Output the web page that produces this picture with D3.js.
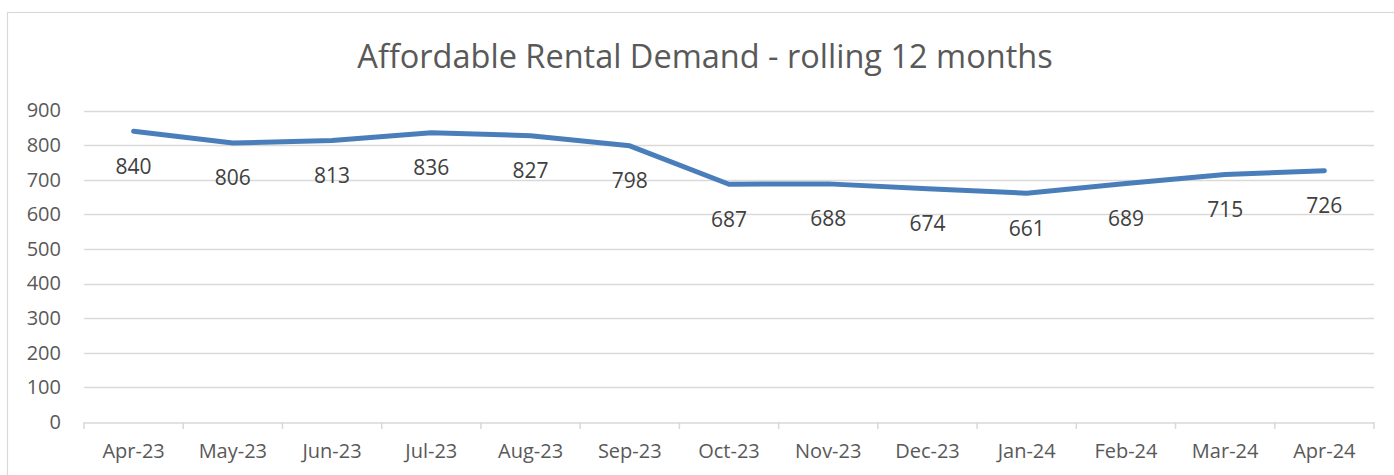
<!DOCTYPE html>
<html><head><meta charset="utf-8">
<script src="https://cdn.jsdelivr.net/npm/d3@7"></script>
<style>body{margin:0;background:#fff}svg{display:block}</style>
</head><body>
<script>
const categories = ["Apr-23","May-23","Jun-23","Jul-23","Aug-23","Sep-23","Oct-23","Nov-23","Dec-23","Jan-24","Feb-24","Mar-24","Apr-24"];
const values = [840,806,813,836,827,798,687,688,674,661,689,715,726];
const yTicks = [0,100,200,300,400,500,600,700,800,900];
const title = "Affordable Rental Demand - rolling 12 months";

(function(){
const W = 1394, H = 475;
const font = "'Open Sans', sans-serif";
const svg = d3.select("body").append("svg").attr("width", W).attr("height", H);

svg.append("rect").attr("x", 7.5).attr("y", 12.5).attr("width", 1400).attr("height", 470)
  .attr("fill", "#fff").attr("stroke", "#d9d9d9").attr("stroke-width", 1.2);

const pLeft = 84, pRight = 1374, pTop = 110.5, pBottom = 422;
const x = d3.scaleBand().domain(categories).range([pLeft, pRight]);
const y = d3.scaleLinear().domain([0, 900]).range([pBottom, pTop]);

svg.append("text").attr("x", 705).attr("y", 68).attr("text-anchor", "middle")
  .attr("font-family", font).attr("font-size", 32.5).attr("fill", "#595959").text(title);

svg.append("g").selectAll("line").data(yTicks.filter(d => d > 0)).join("line")
  .attr("x1", pLeft).attr("x2", pRight).attr("y1", d => Math.round(y(d)) + 0.5).attr("y2", d => Math.round(y(d)) + 0.5)
  .attr("stroke", "#d9d9d9").attr("stroke-width", 1.5);

const yAxis = svg.append("g").attr("transform", `translate(${pLeft},0)`)
  .call(d3.axisLeft(y).tickValues(yTicks).tickSize(0).tickPadding(23));
yAxis.select(".domain").remove();
yAxis.selectAll("text").attr("font-family", font).attr("font-size", 20).attr("fill", "#595959");

const xAxis = svg.append("g").attr("transform", `translate(0,${Math.round(pBottom) + 0.5})`)
  .call(d3.axisBottom(x).tickSize(0).tickPadding(21));
xAxis.select(".domain").attr("stroke", "#d9d9d9").attr("stroke-width", 1.5);
xAxis.selectAll("text").attr("font-family", font).attr("font-size", 20).attr("fill", "#595959");
const bounds = categories.map(c => x(c)).concat([pRight]);
svg.append("g").selectAll("line").data(bounds).join("line")
  .attr("x1", d => d).attr("x2", d => d).attr("y1", pBottom).attr("y2", pBottom + 7)
  .attr("stroke", "#d9d9d9").attr("stroke-width", 1.5);

const cx = c => x(c) + x.bandwidth() / 2;
const line = d3.line().x((d, i) => cx(categories[i])).y(d => y(d));
svg.append("path").datum(values).attr("d", line).attr("fill", "none")
  .attr("stroke", "#4a7ebb").attr("stroke-width", 5).attr("stroke-linecap", "round").attr("stroke-linejoin", "round");

svg.append("g").selectAll("text").data(values).join("text")
  .attr("x", (d, i) => cx(categories[i])).attr("y", d => y(d) + 35)
  .attr("dy", "0.35em").attr("text-anchor", "middle")
  .attr("font-family", font).attr("font-size", 21).attr("fill", "#404040").text(d => d);
})();
</script>
</body></html>
